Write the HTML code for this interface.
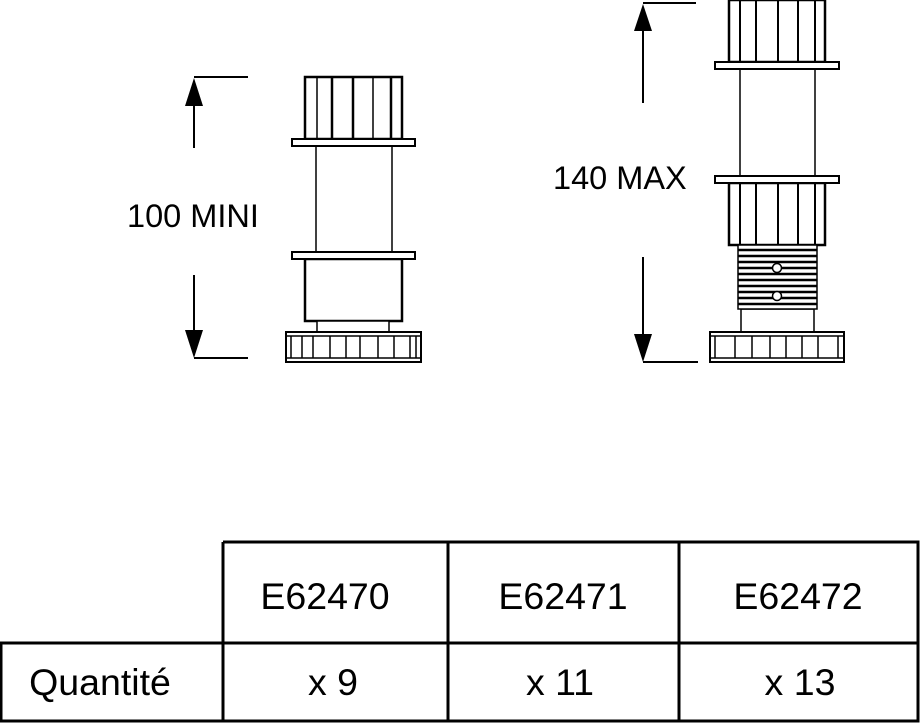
<!DOCTYPE html>
<html><head><meta charset="utf-8"><style>html,body{margin:0;padding:0;background:#fff}svg{display:block}</style></head>
<body>
<svg width="920" height="727" viewBox="0 0 920 727" xmlns="http://www.w3.org/2000/svg" font-family="Liberation Sans, Arial, sans-serif">
<g stroke="#000" fill="none" stroke-width="2">
<line x1="194" y1="77" x2="248" y2="77"/>
<line x1="194" y1="104" x2="194" y2="148"/>
<line x1="194" y1="275" x2="194" y2="332"/>
<line x1="194" y1="358" x2="248" y2="358"/>
</g>
<polygon points="194,78 185,106 203,106" fill="#000"/>
<polygon points="194,358 185,330 203,330" fill="#000"/>
<text x="127" y="227" font-size="32.5">100 MINI</text>

<g stroke="#000" fill="#fff" stroke-width="2">
<rect x="305" y="77" width="97" height="62" stroke-width="2.5"/>
<line x1="317" y1="77" x2="317" y2="139" stroke-width="1.5"/>
<line x1="332" y1="77" x2="332" y2="139" stroke-width="2.5"/>
<line x1="353" y1="77" x2="353" y2="139" stroke-width="2.5"/>
<line x1="373" y1="77" x2="373" y2="139" stroke-width="1.5"/>
<line x1="391" y1="77" x2="391" y2="139" stroke-width="2.5"/>
<line x1="316" y1="146" x2="316" y2="252" stroke-width="1.5"/>
<line x1="392" y1="146" x2="392" y2="252" stroke-width="1.5"/>
<rect x="292" y="139" width="123" height="7"/>
<rect x="305" y="259" width="97" height="62" stroke-width="2.5"/>
<rect x="292" y="252" width="123" height="7"/>
<rect x="317" y="321" width="72" height="11" stroke-width="1.5"/>
<rect x="286" y="332" width="135" height="30"/>
<line x1="286" y1="336" x2="421" y2="336" stroke-width="1.5"/>
<line x1="286" y1="358" x2="421" y2="358" stroke-width="1.5"/>
<path d="M291 336V358M302 336V358M313 336V358M330 336V358M346 336V358M360 336V358M378 336V358M394 336V358M410 336V358M416 336V358" stroke-width="1.5"/>
</g>

<g stroke="#000" fill="none" stroke-width="2">
<line x1="643" y1="3" x2="696" y2="3"/>
<line x1="643" y1="30" x2="643" y2="103"/>
<line x1="643" y1="257" x2="643" y2="335"/>
<line x1="643" y1="362" x2="698" y2="362"/>
</g>
<polygon points="643,4 634,31 652,31" fill="#000"/>
<polygon points="643,362 634,334 652,334" fill="#000"/>
<text x="553" y="189" font-size="32.5">140 MAX</text>

<g stroke="#000" fill="#fff" stroke-width="2">
<rect x="729" y="0" width="96" height="62" stroke-width="2.5"/>
<path d="M740 0V62M756 0V62M778 0V62M798 0V62M815 0V62" stroke-width="2"/>
<line x1="740" y1="69" x2="740" y2="176" stroke-width="1.5"/>
<line x1="815" y1="69" x2="815" y2="176" stroke-width="1.5"/>
<rect x="715" y="62" width="124" height="7"/>
<rect x="729" y="183" width="96" height="62" stroke-width="2.5"/>
<path d="M740 183V245M756 183V245M778 183V245M798 183V245M815 183V245" stroke-width="2"/>
<rect x="715" y="176" width="124" height="7"/>
<rect x="741" y="309" width="73" height="23" stroke-width="1.5"/>
<rect x="738" y="245" width="79" height="64" stroke-width="1.5"/>
<path d="M738 250H817M738 256H817M738 262H817M738 268H817M738 274H817M738 280H817M738 286H817M738 292H817M738 298H817M738 304H817" stroke-width="2.5"/>
<circle cx="777" cy="268" r="4.5" stroke-width="1.5"/>
<circle cx="777" cy="296" r="4.5" stroke-width="1.5"/>
<rect x="710" y="332" width="134" height="30"/>
<line x1="710" y1="336" x2="844" y2="336" stroke-width="1.5"/>
<line x1="710" y1="358" x2="844" y2="358" stroke-width="1.5"/>
<path d="M715 336V358M735 336V358M752 336V358M770 336V358M786 336V358M802 336V358M818 336V358M838 336V358" stroke-width="1.5"/>
</g>

<g stroke="#000" fill="none" stroke-width="3">
<path d="M223 542H918V721H1V643H918M223 542V721M448 542V721M679 542V721"/>
</g>
<g font-size="37.5" text-anchor="middle" fill="#000">
<text x="325" y="609">E62470</text>
<text x="563" y="609">E62471</text>
<text x="798" y="609">E62472</text>
<text x="100" y="695">Quantité</text>
<text x="333" y="695">x 9</text>
<text x="560" y="695">x 11</text>
<text x="800" y="695">x 13</text>
</g>
</svg>
</body></html>
